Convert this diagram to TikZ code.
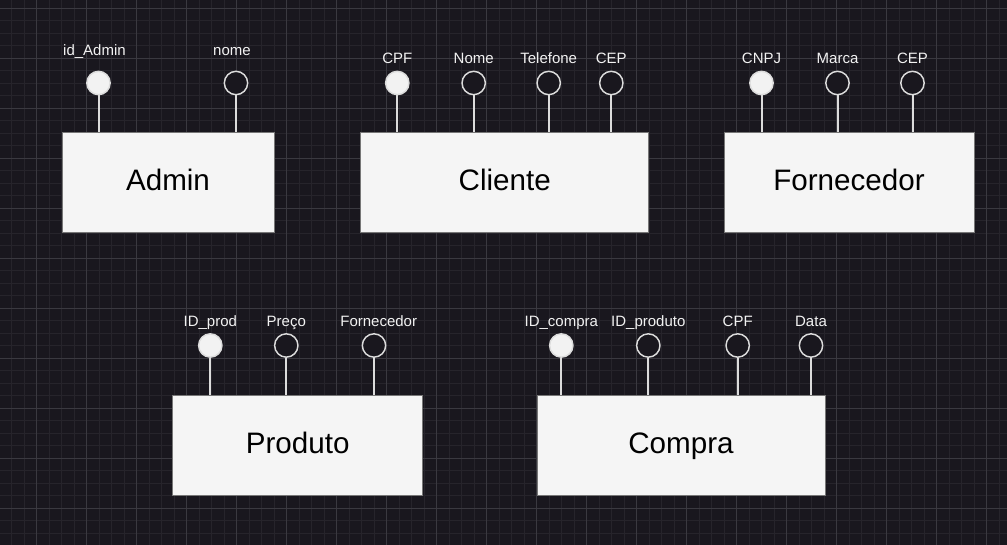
\documentclass[tikz,border=0pt]{standalone}
\usepackage{fontspec}
\setmainfont{Liberation Sans}
\definecolor{bgdark}{HTML}{19171E}
\definecolor{gridmajor}{HTML}{3A3940}
\definecolor{gridminor}{HTML}{26242B}
\definecolor{boxfill}{HTML}{F5F5F5}
\definecolor{boxline}{HTML}{777777}
\definecolor{attrline}{HTML}{DCDCDC}
\definecolor{attrtext}{HTML}{F2F2F2}
\tikzset{
  entity/.style={draw=boxline, fill=boxfill, line width=0.75pt, inner sep=0pt,
    minimum height=75pt, text=black, text height=15.9pt, text depth=4.5pt,
    font=\fontsize{22.2}{26}\selectfont},
  attr/.style={circle, draw=attrline, line width=1.1pt, fill=bgdark,
    inner sep=0pt, minimum size=17.5pt},
  keyattr/.style={attr, fill=attrtext},
  attrlab/.style={text=attrtext, inner sep=0pt, text height=8.05pt, text depth=0pt,
    font=\fontsize{11.25}{13}\selectfont},
  stem/.style={draw=attrline, line width=1.5pt},
}
\begin{document}
\begin{tikzpicture}[x=0.75pt, y=-0.75pt]
  \useasboundingbox (0,0) rectangle (1007,545);
  \fill[bgdark] (0,0) rectangle (1007,545);
  % grid
  \begin{scope}
    \clip (0,0) rectangle (1007,545);
    \foreach \i in {0,...,81}
      \draw[gridminor, line width=0.6pt] ({-1+12.5*\i},0) -- ++(0,545);
    \foreach \i in {0,...,44}
      \draw[gridminor, line width=0.6pt] (0,{-4.2+12.5*\i}) -- ++(1007,0);
    \foreach \i in {0,...,20}
      \draw[gridmajor, line width=0.75pt] ({36.5+50*\i},0) -- ++(0,545);
    \foreach \i in {0,...,11}
      \draw[gridmajor, line width=0.75pt] (0,{8.3+50*\i}) -- ++(1007,0);
  \end{scope}

  % entities
  \node[entity, minimum width=159pt] (admin) at (168,183) {Admin};
  \node[entity, minimum width=216pt] (cliente) at (504.8,183) {Cliente};
  \node[entity, minimum width=187.5pt] (fornecedor) at (849,183) {Fornecedor};
  \node[entity, minimum width=187.5pt] (produto) at (297.7,445.4) {Produto};
  \node[entity, minimum width=216pt] (compra) at (681,445.5) {Compra};

  % attributes
  \foreach \n/\x/\lx/\st/\lab in {1/98.5/94.5/keyattr/id\_Admin, 2/236/232/attr/nome} {
    \node[\st] (adm-\n) at (\x,83) {};
    \node[attrlab] (adm-\n-lab) at (\lx,50) {\lab};
    \draw[stem] (adm-\n) -- (adm-\n |- admin.north);
  }
  \foreach \n/\x/\st/\lab in {1/397.3/keyattr/CPF, 2/473.7/attr/Nome,
      3/548.7/attr/Telefone, 4/611.3/attr/CEP} {
    \node[\st] (cli-\n) at (\x,83) {};
    \node[attrlab] (cli-\n-lab) at (\x,58) {\lab};
    \draw[stem] (cli-\n) -- (cli-\n |- cliente.north);
  }
  \foreach \n/\x/\st/\lab in {1/761.5/keyattr/CNPJ, 2/837.5/attr/Marca,
      3/912.5/attr/CEP} {
    \node[\st] (for-\n) at (\x,83) {};
    \node[attrlab] (for-\n-lab) at (\x,58) {\lab};
    \draw[stem] (for-\n) -- (for-\n |- fornecedor.north);
  }
  \foreach \n/\x/\lx/\st/\lab in {1/210.3/210.3/keyattr/ID\_prod, 2/286.3/286.3/attr/Preço,
      3/374/378.7/attr/Fornecedor} {
    \node[\st] (pro-\n) at (\x,345.5) {};
    \node[attrlab] (pro-\n-lab) at (\lx,321) {\lab};
    \draw[stem] (pro-\n) -- (pro-\n |- produto.north);
  }
  \foreach \n/\x/\st/\lab in {1/561.3/keyattr/ID\_compra, 2/648.3/attr/ID\_produto,
      3/737.7/attr/CPF, 4/811/attr/Data} {
    \node[\st] (com-\n) at (\x,345.5) {};
    \node[attrlab] (com-\n-lab) at (\x,321) {\lab};
    \draw[stem] (com-\n) -- (com-\n |- compra.north);
  }
\end{tikzpicture}
\end{document}
